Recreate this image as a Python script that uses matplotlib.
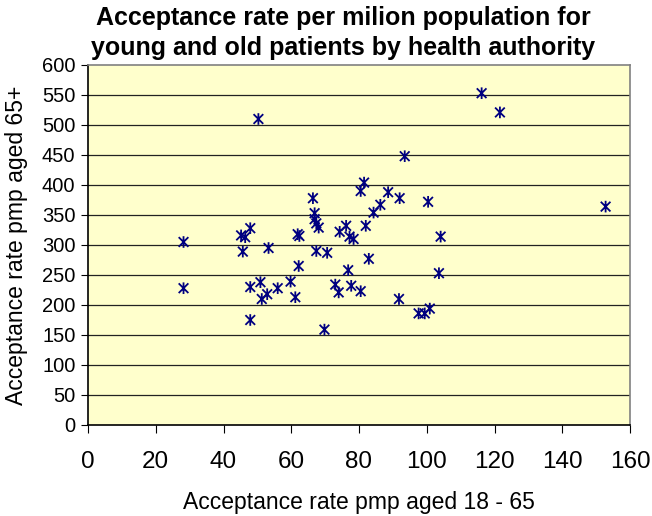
import matplotlib
matplotlib.use('Agg')
import matplotlib.pyplot as plt
from matplotlib.path import Path

plt.rcParams['font.family'] = ['Liberation Sans', 'DejaVu Sans']

# Acceptance rates per health authority (pmp)
young_rate = [28.2, 28.2, 45.2, 46.4, 47.9, 45.7, 53.3, 47.9, 50.9, 56.0,
              52.9, 51.3, 47.9, 50.3, 59.8, 61.2, 62.2, 61.9, 62.4, 66.4,
              66.9, 66.9, 67.4, 68.1, 67.4, 70.6, 69.8, 73.0, 74.0, 74.3,
              76.2, 77.2, 78.4, 76.8, 77.7, 80.5, 80.5, 81.5, 82.0, 82.9,
              84.3, 86.3, 88.6, 91.8, 92.0, 93.5, 97.6, 99.4, 100.9, 100.4,
              103.6, 104.1, 116.2, 121.6, 152.8]
old_rate = [305, 228, 316, 313, 328, 289, 295, 230, 238, 228,
            218, 210, 175, 510, 239, 213, 265, 318, 315, 378,
            353, 343, 336, 329, 290, 287, 159, 234, 221, 322,
            332, 314, 310, 258, 232, 223, 390, 404, 332, 277,
            354, 367, 388, 210, 378, 448, 186, 186, 194, 372,
            253, 314, 553, 521, 364]

x_ticks = list(range(0, 161, 20))
y_ticks = list(range(0, 601, 50))

# Excel-style star marker: an X with a vertical stroke through it
star = Path([(-1, -1), (1, 1), (-1, 1), (1, -1), (0, -1.2), (0, 1.2)],
            [Path.MOVETO, Path.LINETO, Path.MOVETO, Path.LINETO,
             Path.MOVETO, Path.LINETO])

fig = plt.figure(figsize=(6.52, 5.16), dpi=100)
ax = fig.add_axes([88 / 652, 1 - 425 / 516, 542 / 652, 360 / 516])
ax.set_facecolor('#FFFFCC')

ax.scatter(young_rate, old_rate, marker=star, s=70, facecolors='none',
           edgecolors='#000080', linewidths=1.3, zorder=3)

ax.set_xlim(0, 160)
ax.set_ylim(0, 600)
ax.set_xticks(x_ticks)
ax.set_yticks(y_ticks)
ax.tick_params(axis='x', labelsize=17.5, length=6, direction='out', pad=13)
ax.tick_params(axis='y', labelsize=14.5, length=5, direction='out', pad=4)

for y in y_ticks[1:-1]:
    ax.axhline(y, color='#222222', linewidth=0.9, zorder=1)

ax.spines['left'].set_color('black')
ax.spines['bottom'].set_color('black')
ax.spines['top'].set_color('#808080')
ax.spines['right'].set_color('#808080')
for s in ax.spines.values():
    s.set_linewidth(1.2)

ax.set_xlabel('Acceptance rate pmp aged 18 - 65', fontsize=16.5, labelpad=13)
ax.set_ylabel('Acceptance rate pmp aged 65+', fontsize=16.5, labelpad=10)
fig.text(343 / 652, 1 - 6 / 516,
         'Acceptance rate per milion population for\n'
         'young and old patients by health authority',
         ha='center', va='top', fontsize=18, fontweight='bold',
         linespacing=1.3)

fig.savefig('out.png', dpi=100)
